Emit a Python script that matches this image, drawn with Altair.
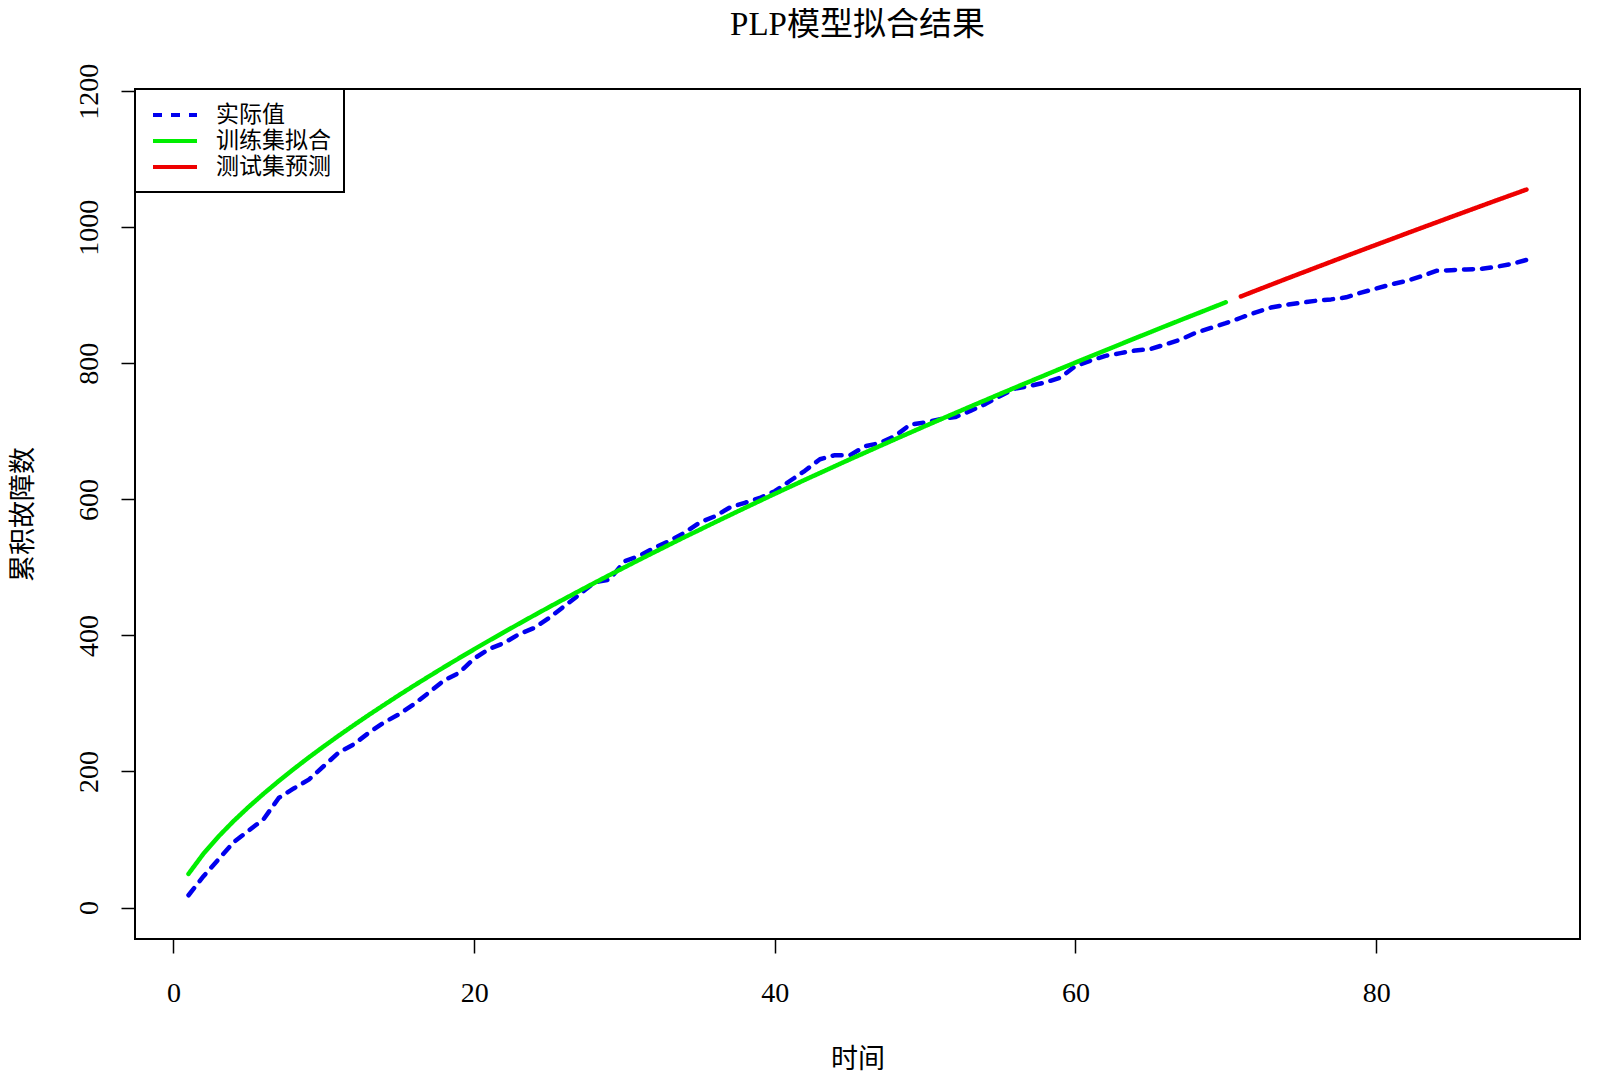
import altair as alt
import pandas as pd

# ---- data ----
t_actual = list(range(1, 91))
actual = [18, 46, 71, 96, 113, 130, 161, 175, 188, 208,
          228, 240, 257, 272, 284, 299, 316, 334, 345, 366,
          380, 389, 402, 411, 426, 443, 460, 478, 482, 509,
          517, 529, 539, 551, 566, 575, 588, 595, 602, 612,
          627, 642, 659, 665, 665, 678, 683, 693, 710, 713,
          718, 721, 730, 740, 752, 763, 767, 772, 779, 796,
          804, 811, 815, 819, 821, 828, 835, 845, 852, 859,
          867, 875, 882, 886, 889, 892, 894, 897, 904, 910,
          916, 921, 928, 936, 937, 938, 939, 942, 946, 952]

t_fit = list(range(1, 71))
fit = [49.5, 79.3, 104.5, 127.1, 147.9, 167.4, 185.9, 203.6, 220.6, 236.9,
       252.8, 268.2, 283.2, 297.8, 312.2, 326.2, 339.9, 353.4, 366.6, 379.6,
       392.4, 405.0, 417.4, 429.7, 441.8, 453.7, 465.5, 477.2, 488.7, 500.1,
       511.4, 522.5, 533.6, 544.6, 555.3, 566.1, 576.7, 587.3, 597.8, 608.2,
       618.5, 628.7, 638.8, 648.9, 658.9, 668.7, 678.6, 688.4, 698.1, 707.8,
       717.4, 726.9, 736.4, 745.8, 755.2, 764.5, 773.7, 782.9, 792.1, 801.2,
       810.3, 819.2, 828.2, 837.2, 846.0, 854.9, 863.7, 872.4, 881.1, 889.8]

t_pred = list(range(71, 91))
pred = [898.3, 907.0, 915.5, 924.1, 932.5, 940.9, 949.3, 957.7, 966.0, 974.3,
        982.5, 990.8, 999.0, 1007.1, 1015.3, 1023.4, 1031.5, 1039.6, 1047.5, 1055.5]

series_names = ["实际值", "训练集拟合", "测试集预测"]
series_colors = ["#0000EE", "#00EE00", "#EE0000"]
series_dash = [[9, 9], [1, 0], [1, 0]]

x_ticks = [0, 20, 40, 60, 80]
y_ticks = [0, 200, 400, 600, 800, 1000, 1200]

df = pd.concat([
    pd.DataFrame({"t": t_actual, "v": actual, "series": series_names[0]}),
    pd.DataFrame({"t": t_fit, "v": fit, "series": series_names[1]}),
    pd.DataFrame({"t": t_pred, "v": pred, "series": series_names[2]}),
], ignore_index=True)

LAT = "Liberation Serif, Noto Sans CJK SC"

x_enc = alt.X("t:Q",
              scale=alt.Scale(domain=[-2.56, 93.56], nice=False, zero=False),
              axis=alt.Axis(values=x_ticks, title="时间", labelPadding=26, format="d",
                            titleY=120, titleBaseline="middle"))
y_enc = alt.Y("v:Q",
              scale=alt.Scale(domain=[-46.3, 1203.3], nice=False, zero=False),
              axis=alt.Axis(values=y_ticks, title="累积故障数", labelAngle=270, format="d",
                            labelAlign="center", labelBaseline="alphabetic",
                            labelPadding=24, titleX=-112, titleBaseline="middle"))
color_enc = alt.Color("series:N",
                      scale=alt.Scale(domain=series_names, range=series_colors),
                      legend=alt.Legend(title=None, orient="none", legendX=0, legendY=0))
dash_enc = alt.StrokeDash("series:N",
                          scale=alt.Scale(domain=series_names, range=series_dash),
                          legend=alt.Legend(title=None, orient="none", legendX=0, legendY=0))

base = alt.Chart(df).mark_line(strokeWidth=4.5, strokeCap="round", strokeJoin="round").encode(
    x=x_enc, y=y_enc, color=color_enc, strokeDash=dash_enc, detail="series:N"
)

layer_actual = base.transform_filter(alt.datum.series == series_names[0])
layer_model = base.transform_filter(alt.datum.series != series_names[0])

chart = alt.layer(layer_actual, layer_model).properties(
    width=1445, height=850,
    autosize=alt.AutoSizeParams(type="none"),
    padding={"left": 127, "top": 81, "right": 12, "bottom": 134},
    title=alt.TitleParams("PLP模型拟合结果", font=LAT, fontSize=33, fontWeight="normal",
                          color="black", anchor="middle", offset=21),
).configure_view(
    stroke="black", strokeWidth=2
).configure_axis(
    grid=False, domain=False, ticks=True, tickColor="black", tickWidth=1.5, tickSize=14,
    labelFont=LAT, labelFontSize=28, labelColor="black",
    titleFont=LAT, titleFontSize=27, titleColor="black", titleFontWeight="normal",
).configure_legend(
    symbolType="M-2,0H2", symbolSize=484, symbolStrokeWidth=4,
    labelFont=LAT, labelFontSize=23, labelColor="black",
    padding=13, rowPadding=1, symbolOffset=14, labelOffset=28,
    strokeColor="black", strokeWidth=2, fillColor="white",
)

chart.save("out.html", embed_options={"renderer": "svg", "actions": False})
